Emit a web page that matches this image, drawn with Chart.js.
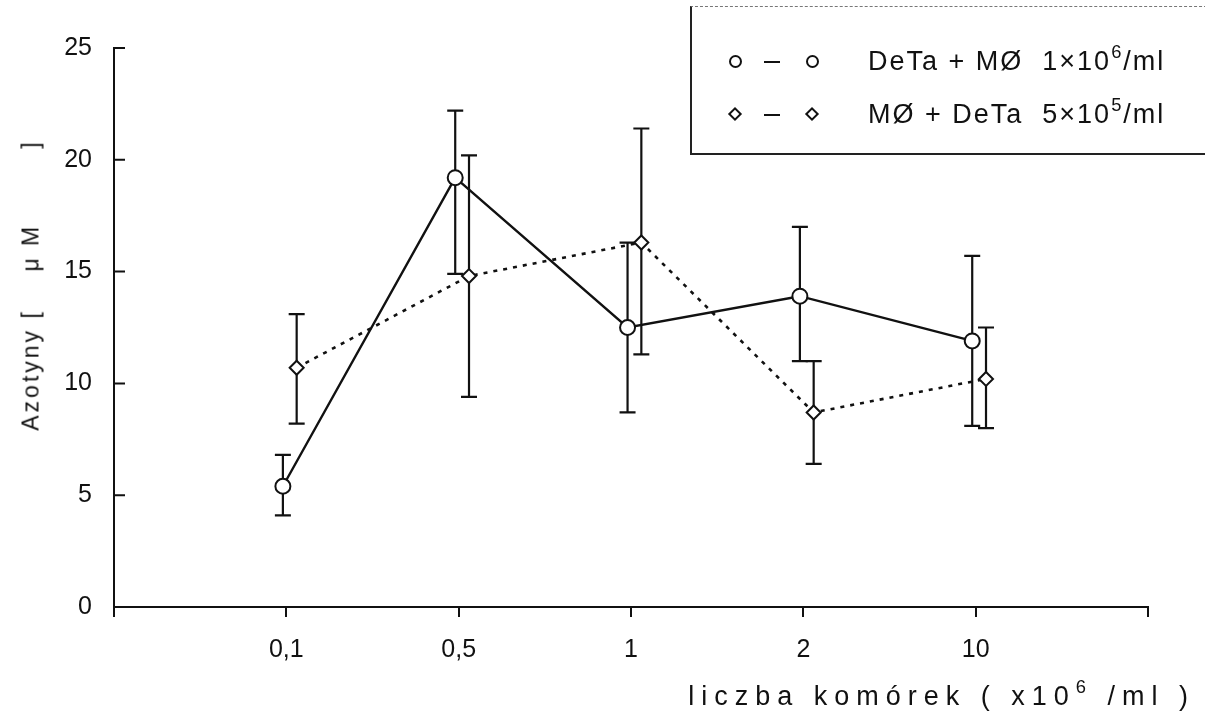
<!DOCTYPE html>
<html lang="pl">
<head>
<meta charset="utf-8">
<title>Azotyny</title>
<script src="https://cdn.jsdelivr.net/npm/chart.js@4.4.1/dist/chart.umd.min.js"></script>
<style>
  html, body { margin: 0; padding: 0; background: #fff; }
  #wrap {
    position: relative; width: 1205px; height: 722px; overflow: hidden;
    font-family: "Liberation Sans", Arial, sans-serif; color: #111;
  }
  #chart { position: absolute; left: 0; top: 0; }
  .legend {
    position: absolute; left: 690px; top: 6px; width: 540px; height: 146px;
    border-left: 2px solid #222; border-bottom: 2px solid #222; border-top: 1px dashed #777;
  }
  .row { position: absolute; left: 0; width: 100%; height: 40px; }
  .sym { position: absolute; top: 50%; box-sizing: border-box; }
  .circ { width: 13px; height: 13px; margin: -6.5px 0 0 -6.5px; border: 2px solid #111; border-radius: 50%; }
  .diam { width: 10px; height: 10px; margin: -5px 0 0 -5px; border: 2px solid #111; transform: rotate(45deg); }
  .dash { width: 16px; height: 0; margin-left: -8px; border-top: 2px solid #111; }
  .ltext {
    position: absolute; left: 176px; top: 50%; transform: translateY(-50%);
    font-size: 27px; letter-spacing: 2px; white-space: pre;
  }
  sup { font-size: 68%; vertical-align: 0.65em; line-height: 0; }
  .ytitle {
    position: absolute; left: 31px; top: 285px; white-space: pre;
    font-size: 23px; letter-spacing: 3px;
    transform: translate(-50%, -50%) rotate(-90deg);
  }
  .xtitle {
    position: absolute; right: 10px; top: 681px; white-space: pre;
    font-size: 27px; letter-spacing: 7px;
  }
</style>
</head>
<body>
<div id="wrap">
  <canvas id="chart" width="1205" height="722"></canvas>
  <div class="legend">
    <div class="row" style="top:34px">
      <div class="sym circ" style="left:43px"></div>
      <div class="sym dash" style="left:80px"></div>
      <div class="sym circ" style="left:120px"></div>
      <div class="ltext">DeTa + MØ  1×10<sup>6</sup>/ml</div>
    </div>
    <div class="row" style="top:87px">
      <div class="sym diam" style="left:43px"></div>
      <div class="sym dash" style="left:80px"></div>
      <div class="sym diam" style="left:120px"></div>
      <div class="ltext">MØ + DeTa  5×10<sup>5</sup>/ml</div>
    </div>
  </div>
  <div class="ytitle">Azotyny [    μ M        ]</div>
  <div class="xtitle">liczba komórek ( x10<sup>6</sup> /ml )</div>
</div>
<script>
  // category positions on the x axis and their tick labels
  const categoryIndex = [1, 2, 3, 4, 5];
  const xTickLabels = ["0,1", "0,5", "1", "2", "10"];
  const yTickValues = [0, 5, 10, 15, 20, 25];

  // DeTa + MØ 1x10^6/ml (circles, solid line)
  const deTaValues = [5.4, 19.2, 12.5, 13.9, 11.9];
  const deTaUpper = [6.8, 22.2, 16.3, 17.0, 15.7];
  const deTaLower = [4.1, 14.9, 8.7, 11.0, 8.1];

  // MØ + DeTa 5x10^5/ml (diamonds, dotted line)
  const mfValues = [10.7, 14.8, 16.3, 8.7, 10.2];
  const mfUpper = [13.1, 20.2, 21.4, 11.0, 12.5];
  const mfLower = [8.2, 9.4, 11.3, 6.4, 8.0];

  const CIRCLE_SHIFT = -0.02;
  const DIAMOND_SHIFT = 0.06;
  const INK = "#111";

  const toPoints = (vals, shift) => vals.map((v, i) => ({ x: categoryIndex[i] + shift, y: v }));

  // error bars under the markers + inward y ticks
  const errorBars = {
    id: "errorBars",
    beforeDatasetsDraw(chart) {
      const { ctx, scales: { x, y } } = chart;
      const sets = [
        { upper: deTaUpper, lower: deTaLower, shift: CIRCLE_SHIFT },
        { upper: mfUpper, lower: mfLower, shift: DIAMOND_SHIFT },
      ];
      ctx.save();
      ctx.strokeStyle = INK;
      ctx.lineWidth = 2.2;
      sets.forEach((s) => {
        categoryIndex.forEach((c, i) => {
          const px = x.getPixelForValue(c + s.shift);
          const top = y.getPixelForValue(s.upper[i]);
          const bot = y.getPixelForValue(s.lower[i]);
          ctx.beginPath();
          ctx.moveTo(px, top); ctx.lineTo(px, bot);
          ctx.moveTo(px - 8, top); ctx.lineTo(px + 8, top);
          ctx.moveTo(px - 8, bot); ctx.lineTo(px + 8, bot);
          ctx.stroke();
        });
      });
      ctx.restore();
    },
    afterDraw(chart) {
      const { ctx, scales: { x, y } } = chart;
      ctx.save();
      ctx.strokeStyle = INK;
      ctx.lineWidth = 2;
      ctx.beginPath();
      yTickValues.slice(1).forEach((v) => {
        const py = y.getPixelForValue(v);
        ctx.moveTo(x.left, py);
        ctx.lineTo(x.left + 11, py);
      });
      ctx.stroke();
      ctx.restore();
    },
  };

  new Chart(document.getElementById("chart"), {
    type: "line",
    data: {
      datasets: [
        {
          label: "DeTa + MØ 1x10^6/ml",
          data: toPoints(deTaValues, CIRCLE_SHIFT),
          borderColor: INK,
          borderWidth: 2.4,
          pointStyle: "circle",
          pointRadius: 7.5,
          pointBorderWidth: 2,
          pointBackgroundColor: "#fff",
          pointBorderColor: INK,
          tension: 0,
        },
        {
          label: "MØ + DeTa 5x10^5/ml",
          data: toPoints(mfValues, DIAMOND_SHIFT),
          borderColor: INK,
          borderWidth: 2.6,
          borderDash: [4, 6],
          pointStyle: "rectRot",
          pointRadius: 7,
          pointBorderWidth: 2,
          pointBackgroundColor: "#fff",
          pointBorderColor: INK,
          tension: 0,
        },
      ],
    },
    options: {
      responsive: false,
      animation: false,
      events: [],
      layout: { padding: { top: 48, right: 57, left: 0, bottom: 0 } },
      plugins: { legend: { display: false }, title: { display: false }, tooltip: { enabled: false } },
      scales: {
        x: {
          type: "linear",
          min: 0,
          max: 6,
          afterFit: (s) => { s.height = 115; },
          afterBuildTicks: (s) => { s.ticks = [0, 1, 2, 3, 4, 5, 6].map((v) => ({ value: v })); },
          border: { color: INK, width: 2 },
          grid: { drawOnChartArea: false, drawTicks: true, tickLength: 10, color: INK, lineWidth: 2 },
          ticks: {
            padding: 18,
            color: INK,
            maxRotation: 0,
            autoSkip: false,
            font: { family: "Liberation Sans", size: 25 },
            callback: (v) => {
              const i = categoryIndex.indexOf(v);
              return i >= 0 ? xTickLabels[i] : "";
            },
          },
        },
        y: {
          min: 0,
          max: 25,
          afterFit: (s) => { s.width = 114; },
          afterBuildTicks: (s) => { s.ticks = yTickValues.map((v) => ({ value: v })); },
          border: { color: INK, width: 2 },
          grid: { drawOnChartArea: false, drawTicks: false },
          ticks: {
            padding: 22,
            color: INK,
            font: { family: "Liberation Sans", size: 25 },
          },
        },
      },
    },
    plugins: [errorBars],
  });
</script>
</body>
</html>
